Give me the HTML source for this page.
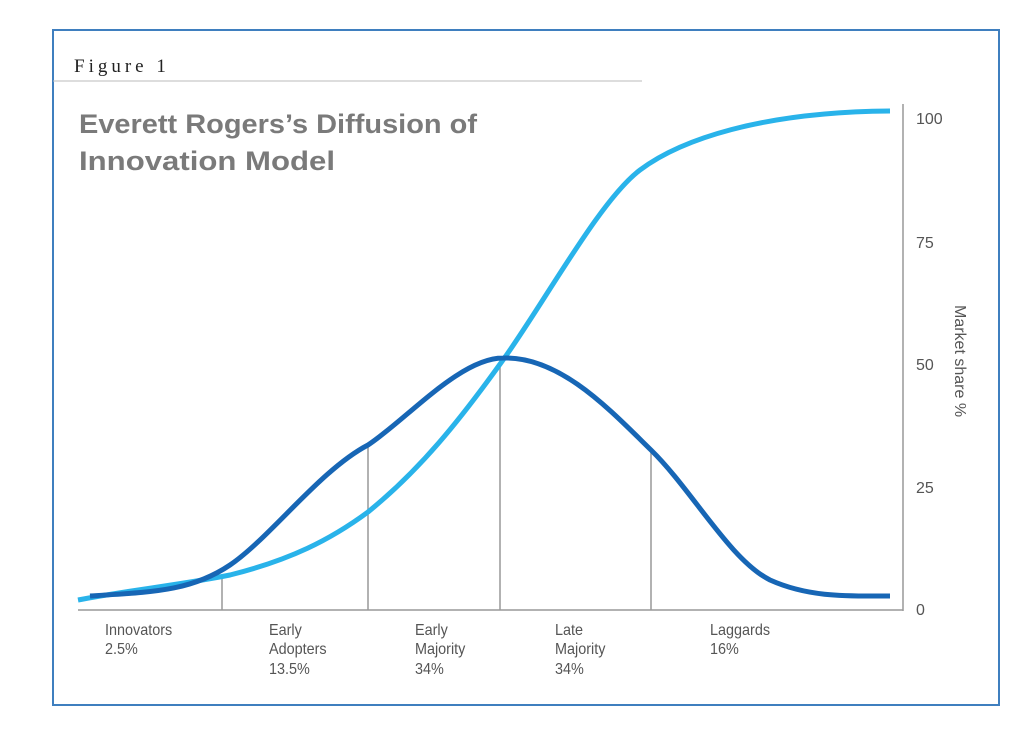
<!DOCTYPE html>
<html><head><meta charset="utf-8"><style>
body{margin:0;background:#fff;width:1024px;height:726px;overflow:hidden}
</style></head><body>
<svg width="1024" height="726" viewBox="0 0 1024 726" xmlns="http://www.w3.org/2000/svg">
<rect x="53" y="30" width="946" height="675" fill="#fff" stroke="#3f7fbf" stroke-width="2"/>
<text x="74" y="72" font-family="Liberation Serif, serif" font-size="19" letter-spacing="4" fill="#222">Figure 1</text>
<line x1="53" y1="81" x2="642" y2="81" stroke="#bbb" stroke-width="1"/>
<text x="79" y="133" font-family="Liberation Sans, sans-serif" font-size="27" font-weight="bold" fill="#7a7a7a" textLength="398" lengthAdjust="spacingAndGlyphs">Everett Rogers’s Diffusion of</text>
<text x="79" y="170" font-family="Liberation Sans, sans-serif" font-size="27" font-weight="bold" fill="#7a7a7a" textLength="256" lengthAdjust="spacingAndGlyphs">Innovation Model</text>
<g stroke="#999" stroke-width="1.5">
<line x1="78" y1="610" x2="903" y2="610"/>
<line x1="903" y1="104" x2="903" y2="611"/>
<line x1="222" y1="578" x2="222" y2="610"/>
<line x1="368" y1="447" x2="368" y2="610"/>
<line x1="500" y1="362" x2="500" y2="610"/>
<line x1="651" y1="450" x2="651" y2="610"/>
</g>
<g font-family="Liberation Sans, sans-serif" font-size="16" fill="#555">
<text x="916" y="124">100</text><text x="916" y="248">75</text><text x="916" y="370">50</text><text x="916" y="493">25</text><text x="916" y="615">0</text>
<text x="955" y="305" transform="rotate(90 955 305)">Market share %</text>
</g>
<g font-family="Liberation Sans, sans-serif" font-size="16" fill="#555" transform="scale(0.9 1)">
<text x="116.7" y="635">Innovators</text><text x="116.7" y="654">2.5%</text>
<text x="298.9" y="635">Early</text><text x="298.9" y="654">Adopters</text><text x="298.9" y="674">13.5%</text>
<text x="461.1" y="635">Early</text><text x="461.1" y="654">Majority</text><text x="461.1" y="674">34%</text>
<text x="616.7" y="635">Late</text><text x="616.7" y="654">Majority</text><text x="616.7" y="674">34%</text>
<text x="788.9" y="635">Laggards</text><text x="788.9" y="654">16%</text>
</g>
<path d="M78,600 C130,590 180,585 230,575 C290,560 330,540 368,512 C420,470 460,420 503,360 C546,300 600,200 640,170 C680,140 760,112 890,111" fill="none" stroke="#29b3ea" stroke-width="5"/>
<path d="M90,596 C150,592 190,592 230,565 C270,538 320,470 368,445 C406,420 460,358 503,358 C560,356 610,410 651,450 C692,490 730,560 770,580 C810,598 850,596 890,596" fill="none" stroke="#1766b5" stroke-width="5"/>
</svg>
</body></html>
